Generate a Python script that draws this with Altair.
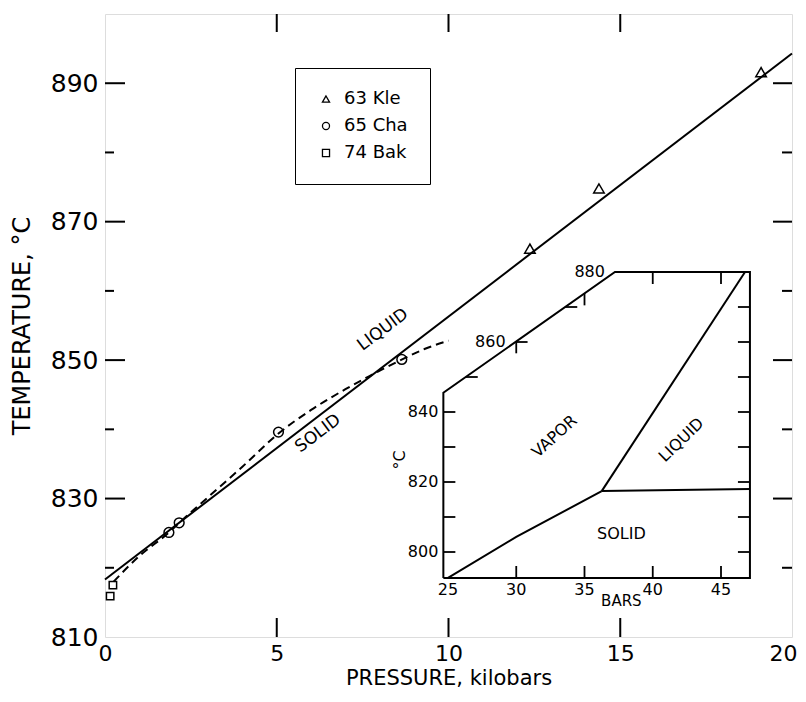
import altair as alt
import pandas as pd

F = "DejaVu Sans"

# ---------------- main chart data ----------------
line_P = [0.0, 20.0]
line_T = [818.3, 894.3]

dash_P = [0.25, 1.0, 1.86, 2.16, 3.0, 4.0, 5.05, 6.0, 7.0, 7.7, 8.65, 9.3, 10.0]
dash_T = [818.0, 821.7, 825.1, 826.5, 830.2, 834.6, 839.4, 842.8, 845.8, 847.7, 850.1, 851.6, 852.8]

series_names = ["63 Kle", "65 Cha", "74 Bak"]
series_shapes = ["triangle-up", "circle", "square"]
kle_P = [12.37, 14.38, 19.1]
kle_T = [866.1, 874.8, 891.6]
cha_P = [1.86, 2.16, 5.05, 8.64]
cha_T = [825.1, 826.5, 839.6, 850.1]
bak_P = [0.15, 0.23]
bak_T = [815.9, 817.5]

x_tick_labels = [0, 5, 10, 15, 20]
y_tick_labels = [810, 830, 850, 870, 890]
y_major = [830, 850, 870, 890]
y_minor = [820, 840, 860, 880]
x_major = [5, 10, 15]

main_text = ["LIQUID", "SOLID"]
main_text_P = [8.09, 6.2]
main_text_T = [854.4, 839.4]

# ---------------- inset data (bars, °C) ----------------
frame_P = [24.66, 24.66, 37.23, 47.12, 47.12, 24.66]
frame_T = [792.57, 845.5, 880.0, 880.0, 792.57, 792.57]
vs_P = [25.0, 30.0, 36.26]
vs_T = [792.6, 804.3, 817.4]
sl_P = [36.26, 47.12]
sl_T = [817.4, 818.0]
vl_P = [36.26, 46.76]
vl_T = [817.4, 880.0]

in_left_T = [800, 810, 820, 830, 840]
in_right_T = [800, 810, 820, 830, 840, 850, 860, 870]
in_bottom_P = [30, 35, 40, 45]
in_top_P = [40, 45]
slant_h_T = [850, 860, 870]
slant_h_P = [26.3, 29.95, 33.59]
slant_v_P = [30, 35]
slant_v_T = [860.2, 873.9]

in_left_lab = ["840", "820", "800"]
in_left_lab_T = [840, 820, 800]
in_slant_lab = ["860", "880"]
in_slant_lab_P = [29.95, 37.23]
in_slant_lab_T = [860, 880]
in_bottom_lab = ["25", "30", "35", "40", "45"]
in_bottom_lab_P = [25, 30, 35, 40, 45]

# ---------------- geometry ----------------
W, H = 687, 623
PAD = {"left": 97, "top": 6, "right": 6, "bottom": 57}
ORIGIN_X, ORIGIN_Y = 105, 14
IX_A, IX_A_PX = 25, 448
IX_B, IX_B_PX = 45, 721
IY_A, IY_A_PX = 840, 412
IY_B, IY_B_PX = 800, 552
kx = (IX_B_PX - IX_A_PX) / (IX_B - IX_A)
ky = (IY_B_PX - IY_A_PX) / (IY_A - IY_B)
ix0 = IX_A - (IX_A_PX - ORIGIN_X) / kx
ix1 = ix0 + W / kx
iy1 = IY_A + (IY_A_PX - ORIGIN_Y) / ky
iy0 = iy1 - H / ky

xs = alt.Scale(domain=[0, 20], nice=False, zero=False)
ys = alt.Scale(domain=[810, 900], nice=False, zero=False)
xaxis = alt.Axis(values=x_tick_labels, format="d", labelFontSize=22, labelFont=F,
                 labelPadding=6, ticks=False, tickSize=0, domain=False, grid=False,
                 labelFlush=False,
                 labelAlign=alt.expr("datum.value == 20 ? 'right' : 'center'"),
                 labelOffset=alt.expr("datum.value == 20 ? 5 : 0"),
                 titleFontSize=21, titleFont=F, titleFontWeight="normal",
                 titlePadding=3, labelColor="black", titleColor="black")
yaxis = alt.Axis(values=y_tick_labels, format="d", labelFontSize=25, labelFont=F,
                 labelPadding=7, ticks=False, tickSize=0, domain=False, grid=False,
                 labelFlush=False, titleFontSize=24, titleFont=F, titleFontWeight="normal",
                 titlePadding=16, labelColor="black", titleColor="black")


def mX():
    return alt.X("P:Q", scale=xs, axis=xaxis, title="PRESSURE, kilobars")


def mY():
    return alt.Y("T:Q", scale=ys, axis=yaxis, title="TEMPERATURE, °C")


def iX(f="Pb"):
    return alt.X(f"{f}:Q", scale=alt.Scale(domain=[ix0, ix1], nice=False, zero=False), axis=None)


def iY(f="Tb"):
    return alt.Y(f"{f}:Q", scale=alt.Scale(domain=[iy0, iy1], nice=False, zero=False), axis=None)


legend = alt.Legend(title=None, orient="none", legendX=190, legendY=54,
                    strokeColor="black", fillColor="white", padding=22,
                    labelFontSize=18, labelFont=F, labelColor="black",
                    symbolSize=50, symbolStrokeWidth=1.3,
                    symbolStrokeColor="black", symbolFillColor="white",
                    rowPadding=9, labelOffset=9)
shape_enc = alt.Shape("series:N", scale=alt.Scale(domain=series_names, range=series_shapes),
                      legend=legend)

# ---------------- main layers ----------------
df_line = pd.DataFrame({"P": line_P, "T": line_T})
df_dash = pd.DataFrame({"P": dash_P, "T": dash_T})

solid = alt.Chart(df_line).mark_line(color="black", strokeWidth=2).encode(x=mX(), y=mY())
dashed = alt.Chart(df_dash).mark_line(color="black", strokeWidth=2, strokeDash=[8, 5],
                                      interpolate="monotone").encode(x=mX(), y=mY())


def pts(P, T, name, size):
    d = pd.DataFrame({"P": P, "T": T, "series": name})
    return alt.Chart(d).mark_point(filled=False, color="black", strokeWidth=1.5,
                                   opacity=1, size=size).encode(x=mX(), y=mY(), shape=shape_enc)


points = [
    pts(kle_P, kle_T, series_names[0], 110),
    pts(cha_P, cha_T, series_names[1], 95),
    pts(bak_P, bak_T, series_names[2], 55),
]

df_ymaj = pd.DataFrame({"T": y_major})
df_ymin = pd.DataFrame({"T": y_minor})
df_xmaj = pd.DataFrame({"P": x_major})
ticks = [
    alt.Chart(df_ymaj).mark_rule(color="black", strokeWidth=2).encode(y=mY(), x=alt.value(0), x2=alt.value(20)),
    alt.Chart(df_ymin).mark_rule(color="black", strokeWidth=2).encode(y=mY(), x=alt.value(0), x2=alt.value(9)),
    alt.Chart(df_ymaj).mark_rule(color="black", strokeWidth=2).encode(y=mY(), x=alt.value(W), x2=alt.value(W - 19)),
    alt.Chart(df_ymin).mark_rule(color="black", strokeWidth=2).encode(y=mY(), x=alt.value(W), x2=alt.value(W - 10)),
    alt.Chart(df_xmaj).mark_rule(color="black", strokeWidth=2).encode(x=mX(), y=alt.value(H), y2=alt.value(H - 19)),
    alt.Chart(df_xmaj).mark_rule(color="black", strokeWidth=2).encode(x=mX(), y=alt.value(0), y2=alt.value(18)),
]

df_mtext = pd.DataFrame({"P": main_text_P, "T": main_text_T, "label": main_text})
mtext = alt.Chart(df_mtext).mark_text(font=F, fontSize=17, angle=323, color="black").encode(
    x=mX(), y=mY(), text="label:N")

main = alt.layer(solid, dashed, *ticks, mtext, *points)

# ---------------- inset layers ----------------


def iline(P, T):
    d = pd.DataFrame({"Pb": P, "Tb": T, "o": list(range(len(P)))})
    return alt.Chart(d).mark_line(color="black", strokeWidth=2).encode(x=iX(), y=iY(), order="o:Q")


def htick(P, T, off):
    d = pd.DataFrame({"Pb": P, "Tb": T})
    return alt.Chart(d).mark_rule(color="black", strokeWidth=1.8, x2Offset=off).encode(
        x=iX(), x2="Pb:Q", y=iY())


def vtick(P, T, off):
    d = pd.DataFrame({"Pb": P, "Tb": T})
    return alt.Chart(d).mark_rule(color="black", strokeWidth=1.8, y2Offset=off).encode(
        x=iX(), y=iY(), y2="Tb:Q")


inset_ticks = [
    htick([frame_P[0]] * len(in_left_T), in_left_T, 12),
    htick([frame_P[3]] * len(in_right_T), in_right_T, -12),
    vtick(in_bottom_P, [frame_T[0]] * len(in_bottom_P), -12),
    vtick(in_top_P, [frame_T[2]] * len(in_top_P), 12),
    htick(slant_h_P, slant_h_T, 12),
    vtick(slant_v_P, slant_v_T, 12),
]


def itext(labels, P, T, **kw):
    d = pd.DataFrame({"Pb": P, "Tb": T, "label": labels})
    return alt.Chart(d).mark_text(font=F, color="black", **kw).encode(x=iX(), y=iY(), text="label:N")


inset_text = [
    itext(in_left_lab, [frame_P[0]] * 3, in_left_lab_T, fontSize=16, align="right", dx=-5, baseline="middle"),
    itext(in_slant_lab, in_slant_lab_P, in_slant_lab_T, fontSize=16, align="right", dx=-10, baseline="middle"),
    itext(in_bottom_lab, in_bottom_lab_P, [frame_T[0]] * 5, fontSize=16, align="center", dy=4, baseline="top"),
    itext(["BARS"], [37.7], [786.0], fontSize=15, align="center", baseline="middle"),
    itext(["°C"], [21.5], [826.3], fontSize=16, align="center", baseline="middle", angle=270),
    itext(["VAPOR"], [32.8], [833.0], fontSize=16, align="center", baseline="middle", angle=318),
    itext(["LIQUID"], [42.1], [832.0], fontSize=16, align="center", baseline="middle", angle=316),
    itext(["SOLID"], [37.7], [805.1], fontSize=16, align="center", baseline="middle"),
]

inset = alt.layer(
    iline(frame_P, frame_T),
    iline(vs_P, vs_T),
    iline(sl_P, sl_T),
    iline(vl_P, vl_T),
    *inset_ticks,
    *inset_text,
)

chart = alt.layer(main, inset).resolve_scale(x="independent", y="independent").properties(
    width=W, height=H,
    autosize=alt.AutoSizeParams(type="none"),
    padding=PAD,
).configure_view(stroke="black", strokeWidth=2).configure(background="white")

chart.save("out.html", embed_options={"renderer": "svg", "actions": False})
